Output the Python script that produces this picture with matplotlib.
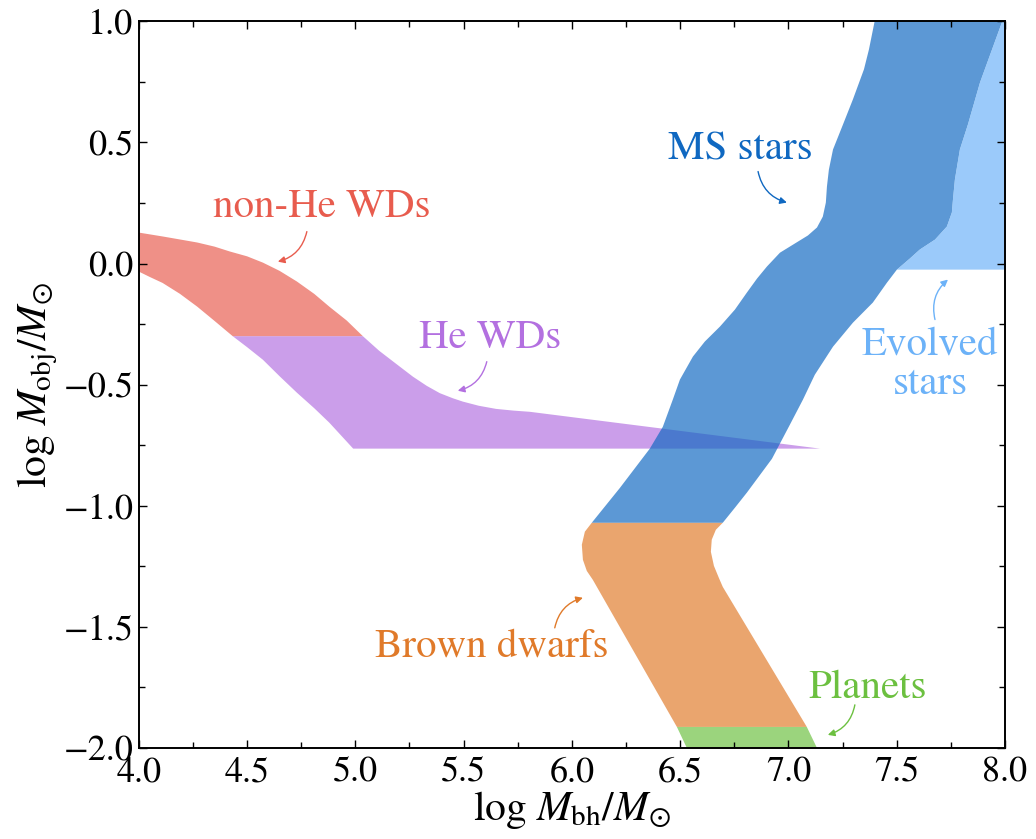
import numpy as np
import matplotlib
matplotlib.use('Agg')
import matplotlib.pyplot as plt
from matplotlib.ticker import MultipleLocator, FuncFormatter

plt.rcParams['font.family'] = 'STIXGeneral'
plt.rcParams['mathtext.fontset'] = 'stix'

# region boundaries (log M_bh, log M_obj)
nonhe_top_x = [3.9, 4.0, 4.11, 4.2, 4.27, 4.35, 4.42, 4.5, 4.573, 4.65, 4.73,
               4.81, 4.88, 4.96, 5.035]
nonhe_top_y = [0.14, 0.128, 0.112, 0.098, 0.087, 0.07, 0.05, 0.03, 0.004, -0.03,
               -0.074, -0.125, -0.178, -0.235, -0.30]
nonhe_bot_x = [3.9, 4.0, 4.05, 4.11, 4.19, 4.27, 4.35, 4.434]
nonhe_bot_y = [0.01, -0.033, -0.055, -0.08, -0.125, -0.178, -0.237, -0.30]

hewd_top_x = [5.035, 5.11, 5.19, 5.266, 5.33, 5.39, 5.45, 5.497, 5.57, 5.65,
              5.73, 5.806, 7.146]
hewd_top_y = [-0.30, -0.36, -0.415, -0.467, -0.505, -0.535, -0.556, -0.57,
              -0.587, -0.60, -0.607, -0.612, -0.764]
hewd_bot_x = [4.434, 4.5, 4.573, 4.65, 4.73, 4.81, 4.88, 4.99, 7.146]
hewd_bot_y = [-0.30, -0.345, -0.397, -0.465, -0.533, -0.597, -0.657, -0.764, -0.764]

# left and right edges of the stellar band, bottom to top
band_left_y = [-2.0, -1.913, -1.306, -1.269, -1.223, -1.161, -1.107, -1.07,
               -0.926, -0.764, -0.674, -0.562, -0.479, -0.384, -0.322, -0.26,
               -0.19, -0.12, -0.062, -0.012, 0.045, 0.083, 0.116, 0.149, 0.194,
               0.252, 0.318, 0.388, 0.471, 0.574, 0.678, 0.802, 0.884, 1.008]
band_left_x = [6.531, 6.485, 6.097, 6.069, 6.051, 6.046, 6.06, 6.092,
               6.222, 6.36, 6.42, 6.466, 6.499, 6.559, 6.614, 6.684,
               6.753, 6.808, 6.855, 6.901, 6.961, 7.03, 7.09, 7.132, 7.159,
               7.173, 7.178, 7.187, 7.206, 7.252, 7.298, 7.349, 7.372, 7.40]
band_right_y = [-2.0, -1.913, -1.335, -1.298, -1.248, -1.19, -1.14, -1.099,
                -1.07, -1.008, -0.946, -0.806, -0.665, -0.562, -0.459, -0.343,
                -0.244, -0.161, -0.079, -0.025, 0.021, 0.058, 0.099, 0.153,
                0.211, 0.264, 0.347, 0.471, 0.574, 0.748, 1.008]
band_right_x = [7.132, 7.085, 6.697, 6.679, 6.656, 6.642, 6.646, 6.665,
                6.697, 6.753, 6.808, 6.924, 7.007, 7.067, 7.122, 7.206,
                7.298, 7.39, 7.455, 7.501, 7.561, 7.607, 7.677, 7.732,
                7.755, 7.76, 7.769, 7.792, 7.829, 7.885, 7.991]

y_planet = -1.913
y_bd = -1.07
y_evolved = -0.025

c_red = '#e85c4e'
c_purple = '#b370e0'
c_blue = '#0f68c1'
c_orange = '#e07a2a'
c_green = '#6cc040'
c_lblue = '#6cb2f8'
alpha = 0.68


def band_piece(y0, y1):
    ly = np.array(band_left_y)
    lx = np.array(band_left_x)
    ry = np.array(band_right_y)
    rx = np.array(band_right_x)
    ml = (ly >= y0) & (ly <= y1)
    mr = (ry >= y0) & (ry <= y1)
    xs = list(lx[ml]) + list(rx[mr][::-1])
    ys = list(ly[ml]) + list(ry[mr][::-1])
    return xs, ys


fig = plt.figure(figsize=(10.36, 8.39), dpi=100)
ax = fig.add_axes([0.134, 0.1085, 0.836, 0.866])

# non-He WDs
ax.fill(nonhe_top_x + nonhe_bot_x[::-1], nonhe_top_y + nonhe_bot_y[::-1],
        color=c_red, alpha=alpha, lw=0)
# He WDs
ax.fill(hewd_top_x + hewd_bot_x[::-1], hewd_top_y + hewd_bot_y[::-1],
        color=c_purple, alpha=alpha, lw=0)

# planets, brown dwarfs, MS stars
xs, ys = band_piece(-2.1, y_planet)
ax.fill(xs, ys, color=c_green, alpha=alpha, lw=0)
xs, ys = band_piece(y_planet, y_bd)
ax.fill(xs, ys, color=c_orange, alpha=alpha, lw=0)
xs, ys = band_piece(y_bd, 1.2)
ax.fill(xs, ys, color=c_blue, alpha=alpha, lw=0)

# evolved stars: right of the band above y_evolved
ry = np.array(band_right_y)
rx = np.array(band_right_x)
m = ry >= y_evolved
ex = list(rx[m]) + [8.2, 8.2]
ey = list(ry[m]) + [ry[m][-1], y_evolved]
ax.fill(ex, ey, color=c_lblue, alpha=alpha, lw=0)

fs = 29.5
labels = [
    ('non-He WDs', (4.845, 0.231), (4.776, 0.132), (4.642, 0.008), c_red, -0.3),
    ('He WDs', (5.62, -0.31), (5.607, -0.405), (5.473, -0.525), c_purple, -0.3),
    ('MS stars', (6.776, 0.47), (6.86, 0.38), (6.993, 0.252), c_blue, 0.3),
    ('Evolved\nstars', (7.654, -0.417), (7.677, -0.231), (7.737, -0.066), c_lblue, -0.3),
    ('Brown dwarfs', (5.63, -1.583), (5.921, -1.504), (6.051, -1.38), c_orange, -0.3),
    ('Planets', (7.367, -1.752), (7.307, -1.822), (7.182, -1.946), c_green, -0.3),
]
for txt, pos, a0, a1, col, rad in labels:
    ax.text(pos[0], pos[1], txt, color=col, fontsize=fs, ha='center',
            va='center', linespacing=1.05)
    ax.annotate('', xy=a1, xytext=a0,
                arrowprops=dict(arrowstyle='-|>', color=col, lw=1.0,
                                mutation_scale=10,
                                connectionstyle='arc3,rad=%g' % rad,
                                shrinkA=0, shrinkB=0))

ax.set_xlim(4.0, 8.0)
ax.set_ylim(-2.0, 1.0)
fmt = FuncFormatter(lambda v, p: ('%.1f' % v).replace('-', '\u2212'))
ax.xaxis.set_major_locator(MultipleLocator(0.5))
ax.xaxis.set_minor_locator(MultipleLocator(0.25))
ax.yaxis.set_major_locator(MultipleLocator(0.5))
ax.yaxis.set_minor_locator(MultipleLocator(0.25))
ax.xaxis.set_major_formatter(fmt)
ax.yaxis.set_major_formatter(fmt)
ax.tick_params(which='both', direction='in', top=True, right=True,
               labelsize=26, width=1.0)
ax.tick_params(axis='x', which='major', pad=6)
ax.tick_params(axis='y', which='major', pad=4)
ax.tick_params(which='major', length=6)
ax.tick_params(which='minor', length=4)
for s in ax.spines.values():
    s.set_linewidth(1.4)

ax.set_xlabel(r'$\log\,M_{\rm bh}/M_{\odot}$', fontsize=30, labelpad=0)
ax.set_ylabel(r'$\log\,M_{\rm obj}/M_{\odot}$', fontsize=30, labelpad=2)

fig.savefig('out.png', dpi=100)
